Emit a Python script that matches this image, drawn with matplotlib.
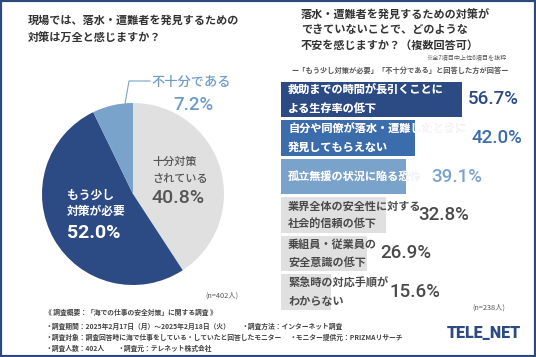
import matplotlib
matplotlib.use('Agg')
import matplotlib.pyplot as plt
from matplotlib.patches import Rectangle

plt.rcParams['font.family'] = ['Noto Sans CJK JP', 'DejaVu Sans']

# データ（左：円グラフ）
pie_labels = ['十分対策\nされている', 'もう少し\n対策が必要', '不十分である']
pie_values = [40.8, 52.0, 7.2]
pie_colors = ['#e0e0e0', '#2c4a84', '#7aa3cc']

# データ（右：横棒グラフ）
bar_labels = ['救助までの時間が長引くことに\nよる生存率の低下',
              '自分や同僚が落水・遭難したときに\n発見してもらえない',
              '孤立無援の状況に陥る恐怖',
              '業界全体の安全性に対する\n社会的信頼の低下',
              '乗組員・従業員の\n安全意識の低下',
              '緊急時の対応手順が\nわからない']
bar_values = [56.7, 42.0, 39.1, 32.8, 26.9, 15.6]
bar_colors = ['#2c4a84', '#3b6cab', '#7aa3cc', '#e0e0e0', '#e0e0e0', '#e0e0e0']
label_colors = ['white', 'white', 'white', '#4a4a4a', '#4a4a4a', '#4a4a4a']
pct_colors = ['#2c4a84', '#3b6cab', '#7aa3cc', '#4a4a4a', '#4a4a4a', '#4a4a4a']
pct_x = [58.6, 59.6, 47.0, 42.9, 31.0, 33.9]  # パーセント表示の位置

W, H = 536, 357
fig = plt.figure(figsize=(W / 100, H / 100), dpi=100)
fig.patch.set_facecolor('white')

# 円グラフ
cx, cy, r = 133, 194, 91
ax_pie = fig.add_axes([(cx - r) / W, 1 - (cy + r) / H, 2 * r / W, 2 * r / H])
ax_pie.pie(pie_values, colors=pie_colors, startangle=90, counterclock=False, radius=1)
ax_pie.set_xlim(-1, 1)
ax_pie.set_ylim(-1, 1)
ax_pie.axis('off')

# 横棒グラフ
x0, px_per = 281, 3.19
top, bottom = 80.25, 311.25
xmax = (W - x0) / px_per
ax_bar = fig.add_axes([x0 / W, 1 - bottom / H, (W - x0) / W, (bottom - top) / H])
ypos = list(range(len(bar_values)))
bars = ax_bar.barh(ypos, bar_values, height=0.91, color=bar_colors)
ax_bar.set_xlim(0, xmax)
ax_bar.set_ylim(len(bar_values) - 0.5, -0.5)
ax_bar.axis('off')
for i, (lab, v) in enumerate(zip(bar_labels, bar_values)):
    if label_colors[i] == 'white':
        # バーからはみ出した部分は薄い色で表示
        ax_bar.text(2.2, i, lab, va='center', ha='left', fontsize=8, fontweight='bold',
                    color='#bcc6d8', linespacing=1.5, clip_on=False)
        t = ax_bar.text(2.2, i, lab, va='center', ha='left', fontsize=8, fontweight='bold',
                        color='white', linespacing=1.5)
        t.set_clip_path(bars[i])
    else:
        ax_bar.text(2.2, i, lab, va='center', ha='left', fontsize=8, fontweight='bold',
                    color=label_colors[i], linespacing=1.5)
    ax_bar.text(pct_x[i], i, f'{v:.1f}%', va='center', ha='left', fontsize=13.5,
                family=['Roboto', 'DejaVu Sans'], fontweight='medium', color=pct_colors[i])

# テキスト用のオーバーレイ
ov = fig.add_axes([0, 0, 1, 1])
ov.set_xlim(0, W)
ov.set_ylim(H, 0)
ov.axis('off')

dark = '#333333'
tkw = dict(fontsize=8, fontweight='bold', color=dark, va='center', ha='left')
ov.text(28, 20, '現場では、落水・遭難者を発見するための', **tkw)
ov.text(28, 38, '対策は万全と感じますか？', **tkw)
ov.text(301, 15, '落水・遭難者を発見するための対策が', **tkw)
ov.text(301, 30, 'できていないことで、どのような', **tkw)
ov.text(301, 45, '不安を感じますか？（複数回答可）', **tkw)
ov.text(507, 57, '※全7項目中上位6項目を抜粋', fontsize=4.4, color='#555555', ha='right', va='center')
ov.text(400, 70, 'ー「もう少し対策が必要」「不十分である」と回答した方が回答ー', fontsize=5.2,
        fontweight='bold', color='#555555', ha='center', va='center')

# 円グラフのラベル
ov.plot([125, 129, 150], [104, 81, 81], color='#7aa3cc', lw=0.8)
ov.text(191, 82, pie_labels[2], fontsize=9.5, color='#6f9cc9', ha='center', va='center', fontweight='medium')
ov.text(193, 105, f'{pie_values[2]:.1f}%', fontsize=13.5, family=['Roboto', 'DejaVu Sans'],
        fontweight='medium', color='#6f9cc9', ha='center', va='center')
ov.text(152, 162, '十分対策', fontsize=8, color='#555555', ha='left', va='center', fontweight='medium')
ov.text(152, 179, 'されている', fontsize=8, color='#555555', ha='left', va='center', fontweight='medium')
ov.text(152, 198, f'{pie_values[0]:.1f}%', fontsize=14, family=['Roboto', 'DejaVu Sans'],
        fontweight='medium', color='#555555', ha='left', va='center')
ov.text(67, 195, 'もう少し', fontsize=8.5, color='white', ha='left', va='center', fontweight='bold')
ov.text(67, 212, '対策が必要', fontsize=8.5, color='white', ha='left', va='center', fontweight='bold')
ov.text(67, 233, f'{pie_values[1]:.1f}%', fontsize=14, family=['Roboto', 'DejaVu Sans'],
        fontweight='bold', color='white', ha='left', va='center')

ov.text(222, 296, '(n=402人)', fontsize=5.3, color='#555555', ha='center', va='center')
ov.text(489, 308, '(n=238人)', fontsize=5.3, color='#555555', ha='center', va='center')

# 調査概要
foot = dict(fontsize=4.9, fontweight='bold', color='#444444', ha='left', va='center')
ov.text(45, 312, '《 調査概要：「海での仕事の安全対策」に関する調査 》', **foot)
ov.text(45, 326, '・調査期間：2025年2月17日（月）～2025年2月18日（火）', **foot)
ov.text(241, 326, '・調査方法：インターネット調査', **foot)
ov.text(45, 337, '・調査対象：調査回答時に海で仕事をしている・していたと回答したモニター', **foot)
ov.text(290, 337, '・モニター提供元：PRIZMAリサーチ', **foot)
ov.text(45, 348, '・調査人数：402人', **foot)
ov.text(117, 348, '・調査元：テレネット株式会社', **foot)

ov.text(484, 333, 'TELE_NET', fontsize=11.5, family=['Roboto', 'DejaVu Sans'], fontweight='black',
        color='#2c4a84', ha='center', va='center')

fig.add_artist(Rectangle((0, 0), 1, 1, transform=fig.transFigure, fill=False,
                         edgecolor='#2c4a7e', lw=3))

fig.savefig('out.png', dpi=100)
